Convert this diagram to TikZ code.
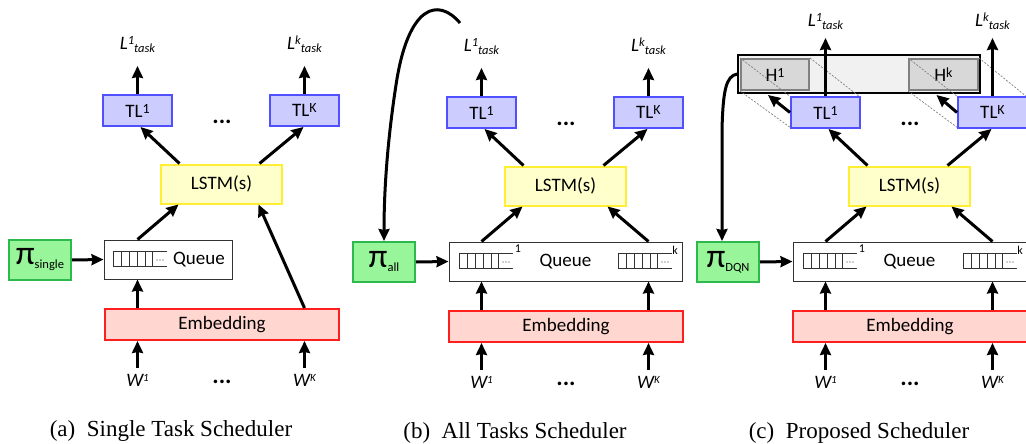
\documentclass[tikz,border=0pt]{standalone}
\usepackage{fontspec}
\setmainfont{Carlito}
\newfontfamily\capfont{Liberation Serif}
\usetikzlibrary{arrows.meta}
\definecolor{gfill}{RGB}{153,245,153}
\definecolor{gdraw}{RGB}{45,185,75}
\definecolor{tfill}{RGB}{204,204,255}
\definecolor{tdraw}{RGB}{80,80,255}
\definecolor{lfill}{RGB}{255,255,204}
\definecolor{ldraw}{RGB}{255,238,50}
\definecolor{efill}{RGB}{255,214,208}
\definecolor{edraw}{RGB}{255,30,30}
\definecolor{hbarc}{RGB}{241,241,241}
\definecolor{hfill}{RGB}{216,216,216}
\definecolor{hdraw}{RGB}{128,128,128}
\definecolor{qdraw}{RGB}{50,50,50}
\newcommand\lblsize{\fontsize{19}{20}\selectfont}
\newcommand\mkTL[1]{TL\raisebox{4pt}{\fontsize{14}{14}\selectfont #1}}
\newcommand\mkH[1]{H\raisebox{4pt}{\fontsize{14}{14}\selectfont #1}}
\newcommand\mkL[1]{\textit{L\raisebox{5pt}{\fontsize{12.5}{12.5}\selectfont #1}\raisebox{-3pt}{\fontsize{12.5}{12.5}\selectfont task}}}
\newcommand\mkW[1]{\textit{W\raisebox{4.5pt}{\fontsize{11}{11}\selectfont #1}}}
\newcommand\mkPi[1]{{\fontsize{34}{34}\selectfont π}\raisebox{-4pt}{\fontsize{12.5}{13}\selectfont #1}}
\begin{document}
\begin{tikzpicture}[x=1pt,y=-1pt,
 bx/.style={line width=2pt, inner sep=0pt, font=\lblsize},
 tlbox/.style={bx, fill=tfill, draw=tdraw, minimum width=69pt, minimum height=31pt},
 hbox/.style={bx, fill=hfill, draw=hdraw, minimum width=68pt, minimum height=31pt},
 lstmbox/.style={bx, fill=lfill, draw=ldraw, minimum width=121pt, minimum height=39pt},
 qbox/.style={bx, fill=white, draw=qdraw, line width=1pt, minimum height=39pt},
 embbox/.style={bx, fill=efill, draw=edraw, minimum width=234pt, minimum height=31pt},
 pibox/.style={bx, fill=gfill, draw=gdraw, minimum width=62pt, minimum height=40pt},
 barbox/.style={fill=hbarc, draw=black, line width=1.5pt, minimum width=242pt, minimum height=38pt, inner sep=0pt},
 arr/.style={line width=3pt, -{Stealth[length=12pt,width=11pt,inset=1pt]}},
 proj/.style={draw=gray, line width=0.7pt, dash pattern=on 2pt off 1.5pt},
 lbl/.style={font=\lblsize, inner sep=0pt, anchor=base},
 txt/.style={font=\lblsize, inner sep=0pt},
 dotsn/.style={font=\fontsize{24}{24}\selectfont\bfseries, inner sep=0pt},
 capn/.style={font=\capfont\fontsize{23}{25}\selectfont, inner sep=0pt, anchor=base},
 qsup/.style={font=\fontsize{12}{12}\selectfont, inner sep=0pt},
 qline/.style={draw=qdraw, line width=0.8pt},
 qicon/.pic={
   \draw[qline] (0,0) rectangle (39,15);
   \foreach \i in {8,16,24,32} {\draw[qline] (\i,0) -- (\i,15);}
   \draw[qline] (39,0) -- (54,0) (39,15) -- (54,15);
   \fill[qdraw] (44,9) circle (0.6pt) (47,9) circle (0.6pt) (50,9) circle (0.6pt);
 }]
\useasboundingbox (0,0) rectangle (1026,444);
\clip (0,0) rectangle (1026,444);

% ---------------- (a) ----------------
\begin{scope}[shift={(-344,-2)}]
\node[tlbox] (a-TL1) at (481.5,112.5) {\mkTL{1}};
\node[tlbox] (a-TLK) at (648.5,112.5) {\mkTL{K}};
\node[dotsn] (a-dt) at (566,124) {...};
\node[lstmbox] (a-L) at (565.5,186) {LSTM(s)};
\node[qbox, minimum width=128pt] (a-Q) at (512,261.5) {};
\node[txt] (a-Qt) at (543,261.5) {Queue};
\pic at (457,253) {qicon};
\node[pibox] (a-pi) at (384,262) {\mkPi{single}};
\node[embbox] (a-E) at (566,326.5) {Embedding};
\node[lbl] (a-L1) at (481.5,52) {\mkL{1}};
\node[lbl] (a-LK) at (648.5,52) {\mkL{k}};
\node[lbl] (a-W1) at (481.5,388) {\mkW{1}};
\node[lbl] (a-WK) at (648.5,388) {\mkW{K}};
\node[dotsn] (a-db) at (566,384) {...};
\node[capn] (a-cap) at (515,438) {(a)\hspace{0.5em}Single Task Scheduler};
\coordinate (a-t1) at (481.5,68);
\coordinate (a-tk) at (648.5,68);
\coordinate (a-w1) at (481.5,370);
\coordinate (a-wk) at (648.5,370);
\draw[arr] (a-TL1.north) -- (a-t1);
\draw[arr] (a-TLK.north) -- (a-tk);
\draw[arr] ([xshift=-42pt]a-L.north) -- ([xshift=3pt]a-TL1.south);
\draw[arr] ([xshift=38pt]a-L.north) -- ([xshift=-1pt]a-TLK.south);
\draw[arr] (a-Q.north -| a-TL1) -- ([xshift=-43pt]a-L.south);
\draw[arr] (a-E.north -| a-TLK) -- ([xshift=37pt]a-L.south);
\draw[arr] (a-E.north -| a-TL1) -- (a-Q.south -| a-TL1);
\draw[arr] (a-w1) -- (a-E.south -| a-TL1);
\draw[arr] (a-wk) -- (a-E.south -| a-TLK);
\draw[arr] (a-pi.east) -- (a-Q.west);
\end{scope}

% ---------------- (b) ----------------
\begin{scope}
\node[tlbox] (b-TL1) at (481.5,112.5) {\mkTL{1}};
\node[tlbox] (b-TLK) at (648.5,112.5) {\mkTL{K}};
\node[dotsn] (b-dt) at (566,124) {...};
\node[lstmbox] (b-L) at (565.5,186) {LSTM(s)};
\node[qbox, minimum width=233pt] (b-Q) at (565.5,261.5) {Queue};
\pic at (459,253) {qicon};
\pic at (618,253) {qicon};
\node[qsup] (b-q1) at (518,249) {1};
\node[qsup] (b-qk) at (675,250) {k};
\node[pibox] (b-pi) at (384,262) {\mkPi{all}};
\node[embbox] (b-E) at (566,326.5) {Embedding};
\node[lbl] (b-L1) at (481.5,52) {\mkL{1}};
\node[lbl] (b-LK) at (648.5,52) {\mkL{k}};
\node[lbl] (b-W1) at (481.5,388) {\mkW{1}};
\node[lbl] (b-WK) at (648.5,388) {\mkW{K}};
\node[dotsn] (b-db) at (566,384) {...};
\node[capn] (b-cap) at (515,438) {(b)\hspace{0.5em}All Tasks Scheduler};
\coordinate (b-t1) at (481.5,68);
\coordinate (b-tk) at (648.5,68);
\coordinate (b-w1) at (481.5,370);
\coordinate (b-wk) at (648.5,370);
\coordinate (b-fb) at (460,23);
\draw[arr] (b-TL1.north) -- (b-t1);
\draw[arr] (b-TLK.north) -- (b-tk);
\draw[arr] ([xshift=-42pt]b-L.north) -- ([xshift=3pt]b-TL1.south);
\draw[arr] ([xshift=38pt]b-L.north) -- ([xshift=-1pt]b-TLK.south);
\draw[arr] (b-Q.north -| b-TL1) -- ([xshift=-43pt]b-L.south);
\draw[arr] (b-Q.north -| b-TLK) -- ([xshift=42pt]b-L.south);
\draw[arr] (b-E.north -| b-TL1) -- (b-Q.south -| b-TL1);
\draw[arr] (b-E.north -| b-TLK) -- (b-Q.south -| b-TLK);
\draw[arr] (b-w1) -- (b-E.south -| b-TL1);
\draw[arr] (b-wk) -- (b-E.south -| b-TLK);
\draw[arr] (b-pi.east) -- (b-Q.west);
\draw[arr] (b-fb) .. controls (438,-3) and (408,5) .. (396,85) .. controls (386,150) and (384,200) .. (b-pi.north);
\end{scope}

% ---------------- (c) ----------------
\begin{scope}[shift={(344,0)}]
\node[barbox] (c-Hb) at (515,74) {};
\node[hbox] (c-H1) at (431,74.5) {\mkH{1}};
\node[hbox, minimum width=69pt] (c-HK) at (599.5,74.5) {\mkH{k}};
\draw[proj] (c-H1.north west) -- (481.5-34.5,97);
\draw[proj] (c-H1.north east) -- (481.5+34.5,97);
\draw[proj] (c-H1.south west) -- (481.5-34.5,128);
\draw[proj] (c-HK.north west) -- (648.5-34.5,97);
\draw[proj] (c-HK.north east) -- (648.5+34.5,97);
\draw[proj] (c-HK.south west) -- (648.5-34.5,128);
\node[tlbox] (c-TL1) at (481.5,112.5) {\mkTL{1}};
\node[tlbox] (c-TLK) at (648.5,112.5) {\mkTL{K}};
\node[dotsn] (c-dt) at (566,124) {...};
\node[lstmbox] (c-L) at (565.5,186) {LSTM(s)};
\node[qbox, minimum width=233pt] (c-Q) at (565.5,261.5) {Queue};
\pic at (459,253) {qicon};
\pic at (619,253) {qicon};
\node[qsup] (c-q1) at (518,249) {1};
\node[qsup] (c-qk) at (676,250) {k};
\node[pibox] (c-pi) at (384,262) {\mkPi{DQN}};
\node[embbox] (c-E) at (566,326.5) {Embedding};
\node[lbl] (c-L1) at (481.5,27) {\mkL{1}};
\node[lbl] (c-LK) at (648.5,27) {\mkL{k}};
\node[lbl] (c-W1) at (481.5,388) {\mkW{1}};
\node[lbl] (c-WK) at (648.5,388) {\mkW{K}};
\node[dotsn] (c-db) at (566,384) {...};
\node[capn] (c-cap) at (515,438) {(c)\hspace{0.5em}Proposed Scheduler};
\coordinate (c-t1) at (481.5,38);
\coordinate (c-tk) at (648.5,38);
\coordinate (c-w1) at (481.5,370);
\coordinate (c-wk) at (648.5,370);
\draw[arr] (c-TL1.north) -- (c-t1);
\draw[arr] (c-TLK.north) -- (c-tk);
\draw[arr] (c-TL1.west) -- ([xshift=-7pt,yshift=-4pt]c-H1.south);
\draw[arr] (c-TLK.west) -- ([xshift=-7pt,yshift=-4pt]c-HK.south);
\draw[arr] ([xshift=-42pt]c-L.north) -- ([xshift=3pt]c-TL1.south);
\draw[arr] ([xshift=38pt]c-L.north) -- ([xshift=-1pt]c-TLK.south);
\draw[arr] (c-Q.north -| c-TL1) -- ([xshift=-43pt]c-L.south);
\draw[arr] (c-Q.north -| c-TLK) -- ([xshift=42pt]c-L.south);
\draw[arr] (c-E.north -| c-TL1) -- (c-Q.south -| c-TL1);
\draw[arr] (c-E.north -| c-TLK) -- (c-Q.south -| c-TLK);
\draw[arr] (c-w1) -- (c-E.south -| c-TL1);
\draw[arr] (c-wk) -- (c-E.south -| c-TLK);
\draw[arr] (c-pi.east) -- (c-Q.west);
\draw[arr] (c-Hb.west) .. controls (382,76) and (379,90) .. (378,130) -- ([xshift=-6pt]c-pi.north);
\end{scope}
\end{tikzpicture}
\end{document}
